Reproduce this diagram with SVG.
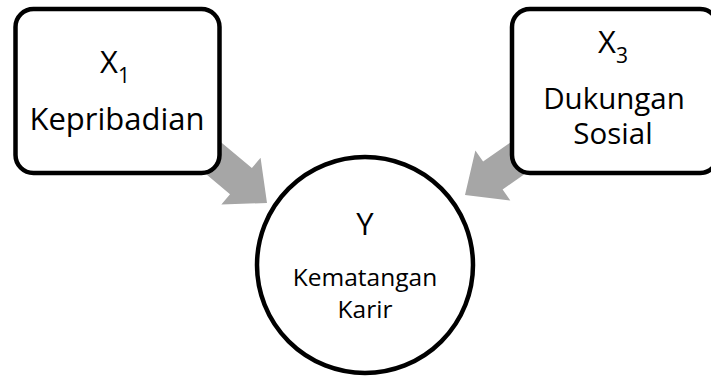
<svg xmlns="http://www.w3.org/2000/svg" xmlns:xlink="http://www.w3.org/1999/xlink" width="711" height="378" viewBox="0 0 711 378">
  <style>
    .node { fill: #ffffff; stroke: #000000; stroke-width: 4.5; }
    .arrow { fill: #a6a6a6; stroke: none; }
    .t { font-family: "Open Sans", "Liberation Sans", sans-serif; fill: #000000; }
    .big { font-size: 31px; }
    .two { font-size: 29.5px; }
    .mid { font-size: 24.5px; }
    .sub { font-size: 21px; }
  </style>
  <defs>
    <path id="blockArrow" d="M0,0 L-34,-30.5 L-34,-17 L-95,-17 L-95,17 L-34,17 L-34,30.5 Z"/>
  </defs>
  <g id="connectors">
    <use xlink:href="#blockArrow" href="#blockArrow" class="arrow" transform="translate(267,203) rotate(40)"/>
    <use xlink:href="#blockArrow" href="#blockArrow" class="arrow" transform="translate(465,195) rotate(145)"/>
  </g>
  <g id="node-x1">
    <rect class="node" x="15.5" y="9" width="204" height="164" rx="18" ry="18"/>
    <text class="t big" x="100" y="73">X<tspan class="sub" dy="10">1</tspan></text>
    <text class="t big" x="117" y="130" text-anchor="middle">Kepribadian</text>
  </g>
  <g id="node-x3">
    <rect class="node" x="512" y="9" width="206" height="164" rx="18" ry="18"/>
    <text class="t big" x="598" y="53">X<tspan class="sub" dy="10">3</tspan></text>
    <text class="t two" x="614" y="109" text-anchor="middle">Dukungan</text>
    <text class="t two" x="613" y="144" text-anchor="middle">Sosial</text>
  </g>
  <g id="node-y">
    <circle class="node" cx="365" cy="265" r="108"/>
    <text class="t big" x="365" y="235" text-anchor="middle">Y</text>
    <text class="t mid" x="365" y="286" text-anchor="middle">Kematangan</text>
    <text class="t mid" x="365" y="318" text-anchor="middle">Karir</text>
  </g>
</svg>
